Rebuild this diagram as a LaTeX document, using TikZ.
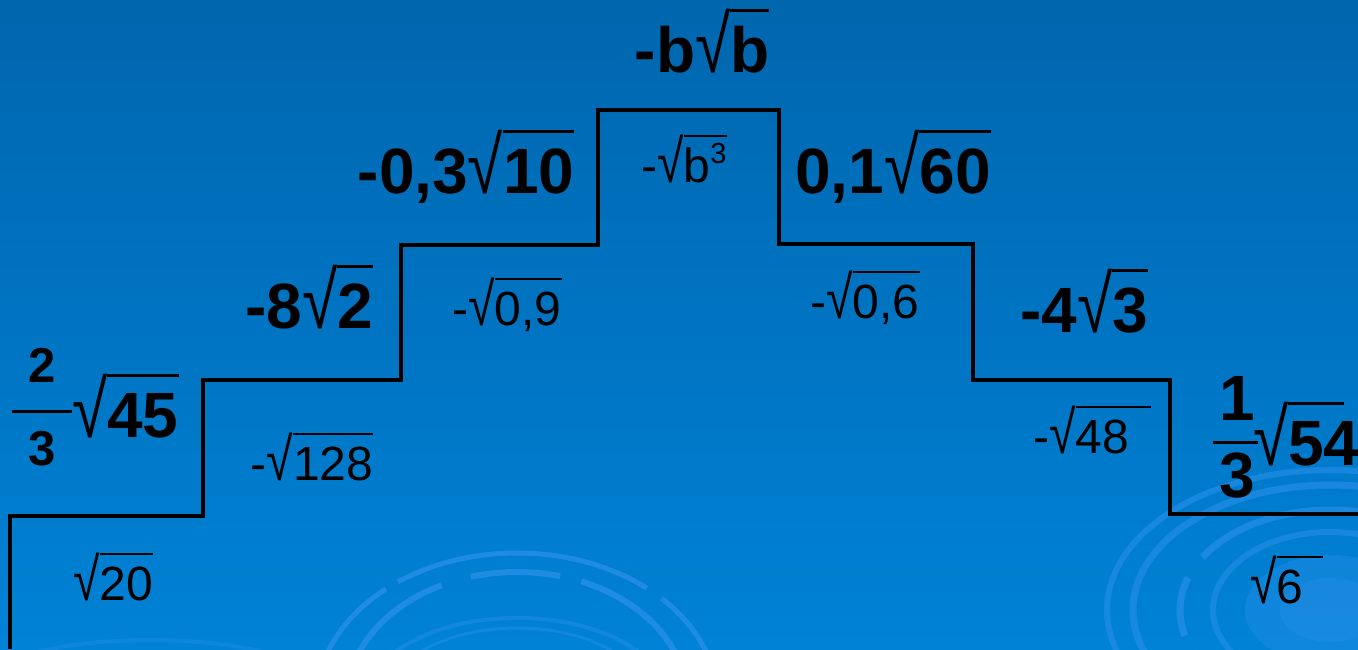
\documentclass[tikz,border=0pt]{standalone}
\usepackage{fontspec}
\setmainfont{Liberation Sans}
\usepackage{graphicx}
\definecolor{bgtop}{RGB}{0,102,174}
\definecolor{bgbot}{RGB}{0,130,214}
\definecolor{swirl}{RGB}{45,145,235}
\newcommand\radsign{\mdseries\scalebox{1}[1.25]{√}}
\newcommand\rad[2][0pt]{{\radsign}\setbox0\hbox{#2}\setbox2\hbox{\radsign}\rlap{\raisebox{\dimexpr\ht2-0.05em\relax}{\rule{\dimexpr\wd0+#1\relax}{0.05em}}}\box0}
\tikzset{
  big/.style={font=\fontsize{64}{70}\selectfont\bfseries, inner sep=0pt, anchor=base},
  small/.style={font=\fontsize{48}{54}\selectfont, inner sep=0pt, anchor=base},
  stair/.style={line width=4pt, black, line join=miter},
  swirlline/.style={swirl, line width=5pt, opacity=0.7},
}
\begin{document}
\begin{tikzpicture}[x=1pt,y=-1pt]
\useasboundingbox (0,0) rectangle (1358,649);
\fill[top color=bgtop, bottom color=bgbot] (0,0) rectangle (1358,649);
\begin{scope}
\clip (0,0) rectangle (1358,649);
% middle swirl
\draw[swirlline, dash pattern=on 120pt off 18pt on 260pt off 14pt] (517,700) ellipse [x radius=200pt, y radius=147pt];
\draw[swirlline, line width=6pt, dash pattern=on 170pt off 22pt on 90pt off 30pt] (517,700) ellipse [x radius=170pt, y radius=128pt];
\draw[swirlline, line width=4pt, opacity=0.4] (517,700) ellipse [x radius=150pt, y radius=82pt];
\draw[swirlline, line width=3pt, opacity=0.4] (517,700) ellipse [x radius=130pt, y radius=72pt];
% right swirl
\draw[swirlline, line width=6pt, opacity=0.55] (1330,610) ellipse [x radius=223pt, y radius=140pt];
\draw[swirlline, line width=7pt, opacity=0.55] (1330,610) ellipse [x radius=197pt, y radius=125pt];
\draw[swirlline, line width=7pt, opacity=0.6, dash pattern=on 60pt off 18pt on 40pt off 20pt on 200pt off 25pt] (1330,610) ellipse [x radius=150pt, y radius=100pt];
\draw[swirlline, line width=6pt, opacity=0.5] (1330,610) ellipse [x radius=117pt, y radius=78pt];
\fill[swirl, opacity=0.35] (1330,610) ellipse [x radius=85pt, y radius=55pt];
\fill[swirl, opacity=0.3] (1330,610) ellipse [x radius=50pt, y radius=32pt];
\draw[swirlline, line width=4pt, opacity=0.3] (150,700) ellipse [x radius=190pt, y radius=60pt];
\end{scope}
% staircase
\draw[stair] (10,649) -- (10,516) -- (203,516) -- (203,380) -- (401,380) -- (401,245) -- (598,245) -- (598,110) -- (779,110) -- (779,244) -- (973,244) -- (973,380) -- (1170,380) -- (1170,514) -- (1358,514);
% bold labels
\node[big] (top) at (702,72) {-b\rad{b}};
\node[big] (l2) at (466,193) {-0,3\rad{10}};
\node[big] (r2) at (893,193) {0,1\rad{60}};
\node[big] (l3) at (309,328) {-8\rad{2}};
\node[big] (r3) at (1084,332) {-4\rad{3}};
\node[big, anchor=base west] (l4) at (72,437) {\rad{45}};
\node[font=\fontsize{49}{54}\selectfont\bfseries, inner sep=0pt, anchor=base] (l4n) at (42,382) {2};
\node[font=\fontsize{49}{54}\selectfont\bfseries, inner sep=0pt, anchor=base] (l4d) at (42,465) {3};
\draw[line width=3pt] (12,411) -- (72,411);
\node[big, anchor=base west] (r4) at (1253,465) {\rad[-16pt]{54}};
\node[big, inner sep=0pt, anchor=base] (r4n) at (1237,420) {1};
\node[big, inner sep=0pt, anchor=base] (r4d) at (1237,497) {3};
\draw[line width=3pt] (1213,442) -- (1258,442);
% small labels
\node[small] (s1) at (684,182) {-\rad{b\raisebox{19pt}{\fontsize{29}{30}\selectfont 3}}};
\node[small] (s2) at (507,325) {-\rad{0,9}};
\node[small] (s3) at (865,318) {-\rad{0,6}};
\node[small] (s4) at (312,480) {-\rad{128}};
\node[small, anchor=base west] (s5) at (1033,453) {-\rad[22pt]{48}};
\node[small, anchor=base west] (s6) at (73,600) {\rad{20}};
\node[small, anchor=base west] (s7) at (1250,603) {\rad[20pt]{6}};
\end{tikzpicture}
\end{document}
